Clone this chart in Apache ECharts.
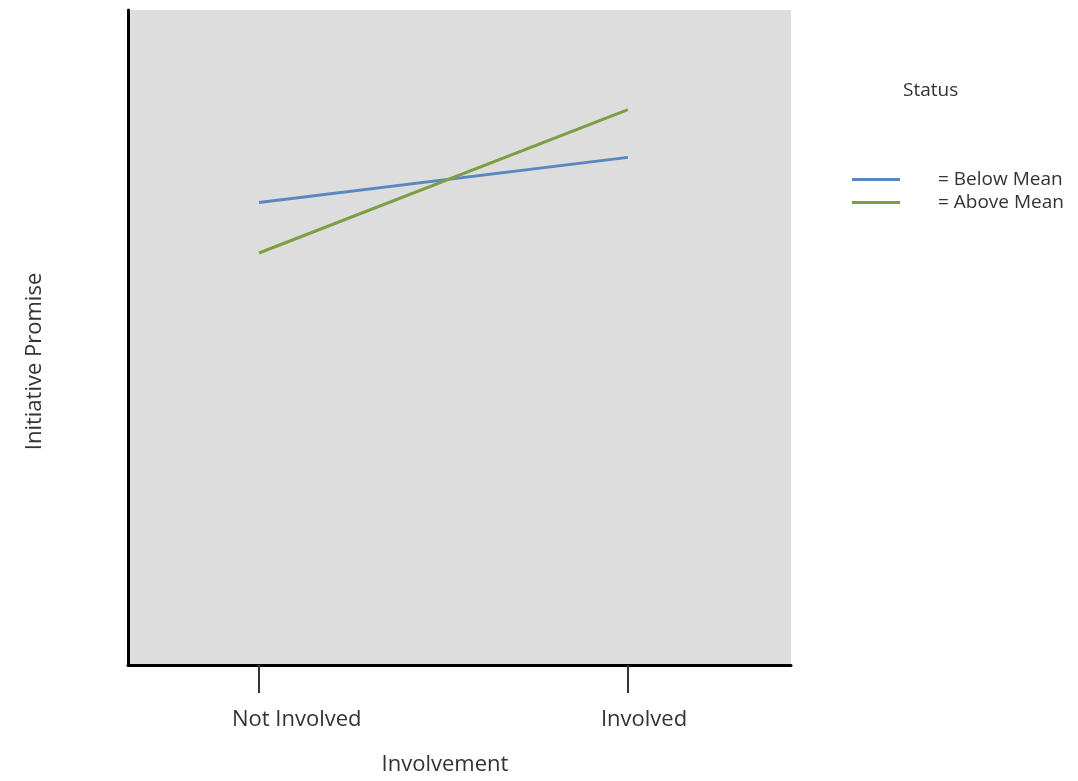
<!DOCTYPE html>
<html>
<head>
<meta charset="utf-8">
<script src="https://cdn.jsdelivr.net/npm/echarts@6/dist/echarts.min.js"></script>
<style>
html,body{margin:0;padding:0;background:#fff;}
#chart{width:1078px;height:781px;}
</style>
</head>
<body>
<div id="chart"></div>
<script>
const categories = ['Not Involved', 'Involved'];
const categoryX = [1, 2];
const belowMean = [70.6, 77.5];
const aboveMean = [62.9, 84.8];
const seriesNames = ['Below Mean', 'Above Mean'];

const font = '"Open Sans", "DejaVu Sans", sans-serif';
const chart = echarts.init(document.getElementById('chart'));
const pairs = (vals) => categoryX.map((x, i) => [x, vals[i]]);

chart.setOption({
  animation: false,
  backgroundColor: '#ffffff',
  title: {
    text: 'Status',
    left: 903, top: 81, padding: 0,
    textStyle: {fontFamily: font, fontSize: 19, fontWeight: 'normal', color: '#333'}
  },
  legend: {
    orient: 'vertical',
    left: 852, top: 170, padding: 0,
    itemWidth: 48, itemHeight: 3, itemGap: 4,
    icon: 'rect',
    data: seriesNames,
    formatter: (n) => '= ' + n,
    textStyle: {fontFamily: font, fontSize: 19, color: '#333', padding: [0, 0, 0, 33]}
  },
  grid: {
    left: 128, right: 287, top: 10, bottom: 116,
    show: true, backgroundColor: '#dddddd', borderWidth: 0
  },
  xAxis: {
    type: 'value',
    min: 0.645, max: 2.442,
    name: 'Involvement',
    nameLocation: 'middle',
    nameGap: 89,
    nameTextStyle: {fontFamily: font, fontSize: 22, color: '#333', padding: [0, 29, 0, 0]},
    axisLine: {show: true, onZero: false, lineStyle: {color: '#000', width: 3}},
    axisTick: {show: true, customValues: categoryX, length: 28, lineStyle: {color: '#333', width: 2}},
    axisLabel: {
      show: true, customValues: categoryX, margin: 44, align: 'left',
      padding: [0, 0, 0, -27],
      formatter: (v) => categories[categoryX.indexOf(v)] || '',
      fontFamily: font, fontSize: 22, color: '#333'
    },
    splitLine: {show: false}
  },
  yAxis: {
    type: 'value',
    min: 0, max: 100,
    name: 'Initiative Promise',
    nameLocation: 'middle',
    nameRotate: 90,
    nameGap: 82,
    nameTextStyle: {fontFamily: font, fontSize: 22, color: '#333', padding: [0, 48, 0, 0]},
    axisLine: {show: true, onZero: false, lineStyle: {color: '#000', width: 3}},
    axisTick: {show: false},
    axisLabel: {show: false},
    splitLine: {show: false}
  },
  series: [
    {name: seriesNames[0], type: 'line', data: pairs(belowMean), showSymbol: false,
     color: '#5b87c0', lineStyle: {color: '#5b87c0', width: 3}},
    {name: seriesNames[1], type: 'line', data: pairs(aboveMean), showSymbol: false,
     color: '#7c9f45', lineStyle: {color: '#7c9f45', width: 3}}
  ]
});
</script>
</body>
</html>
